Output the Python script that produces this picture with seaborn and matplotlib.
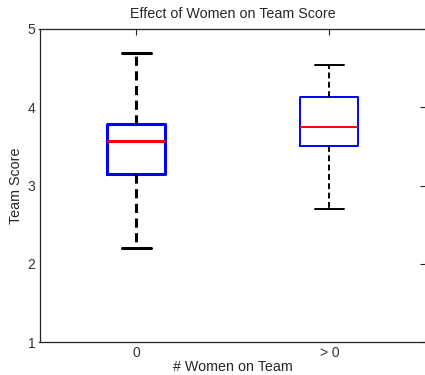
import matplotlib
matplotlib.use('Agg')
import matplotlib.pyplot as plt
import pandas as pd
import seaborn as sns

# five-number summaries (min, q1, median, q3, max)
groups = ['0', '> 0']
scores_none = [2.20, 3.15, 3.57, 3.79, 4.69]
scores_some = [2.70, 3.50, 3.75, 4.13, 4.54]
yticks = [1, 2, 3, 4, 5]

df = pd.concat([
    pd.DataFrame({'Group': groups[0], 'Score': scores_none}),
    pd.DataFrame({'Group': groups[1], 'Score': scores_some}),
])

sns.set_style('white')
plt.rcParams['font.family'] = ['Liberation Sans', 'DejaVu Sans']
plt.rcParams['font.size'] = 10

fig = plt.figure(figsize=(4.25, 3.75), dpi=100)
ax = fig.add_axes([39.5 / 425, 33 / 375, 386.5 / 425, 313 / 375])

# thick style for first group, thinner for the second
for grp, lw in [(groups[0], 2.2), (groups[1], 1.4)]:
    sns.boxplot(data=df[df['Group'] == grp], x='Group', y='Score', order=groups,
                width=0.3, whis=(0, 100), fill=False, ax=ax,
                boxprops=dict(color='#0000ff', linewidth=lw),
                medianprops=dict(color='#ff0000', linewidth=lw),
                whiskerprops=dict(color='k', linewidth=lw, linestyle=(0, (3, 1.8))),
                capprops=dict(color='k', linewidth=lw),
                showfliers=False)

ax.set_xlim(-0.5, 1.5)
ax.set_ylim(1, 5)
ax.set_yticks(yticks)
ax.set_title('Effect of Women on Team Score', fontsize=10.3, pad=8)
ax.set_xlabel('# Women on Team', fontsize=10.3, labelpad=0)
ax.set_ylabel('Team Score', fontsize=10.3, labelpad=3)
ax.tick_params(direction='in', length=4, width=0.8, top=True, right=True,
               colors='#222222', labelcolor='#333333', pad=3, labelsize=10)
for s in ax.spines.values():
    s.set_visible(True)
    s.set_color('#222222')
    s.set_linewidth(0.9)

fig.savefig('out.png', dpi=100)
